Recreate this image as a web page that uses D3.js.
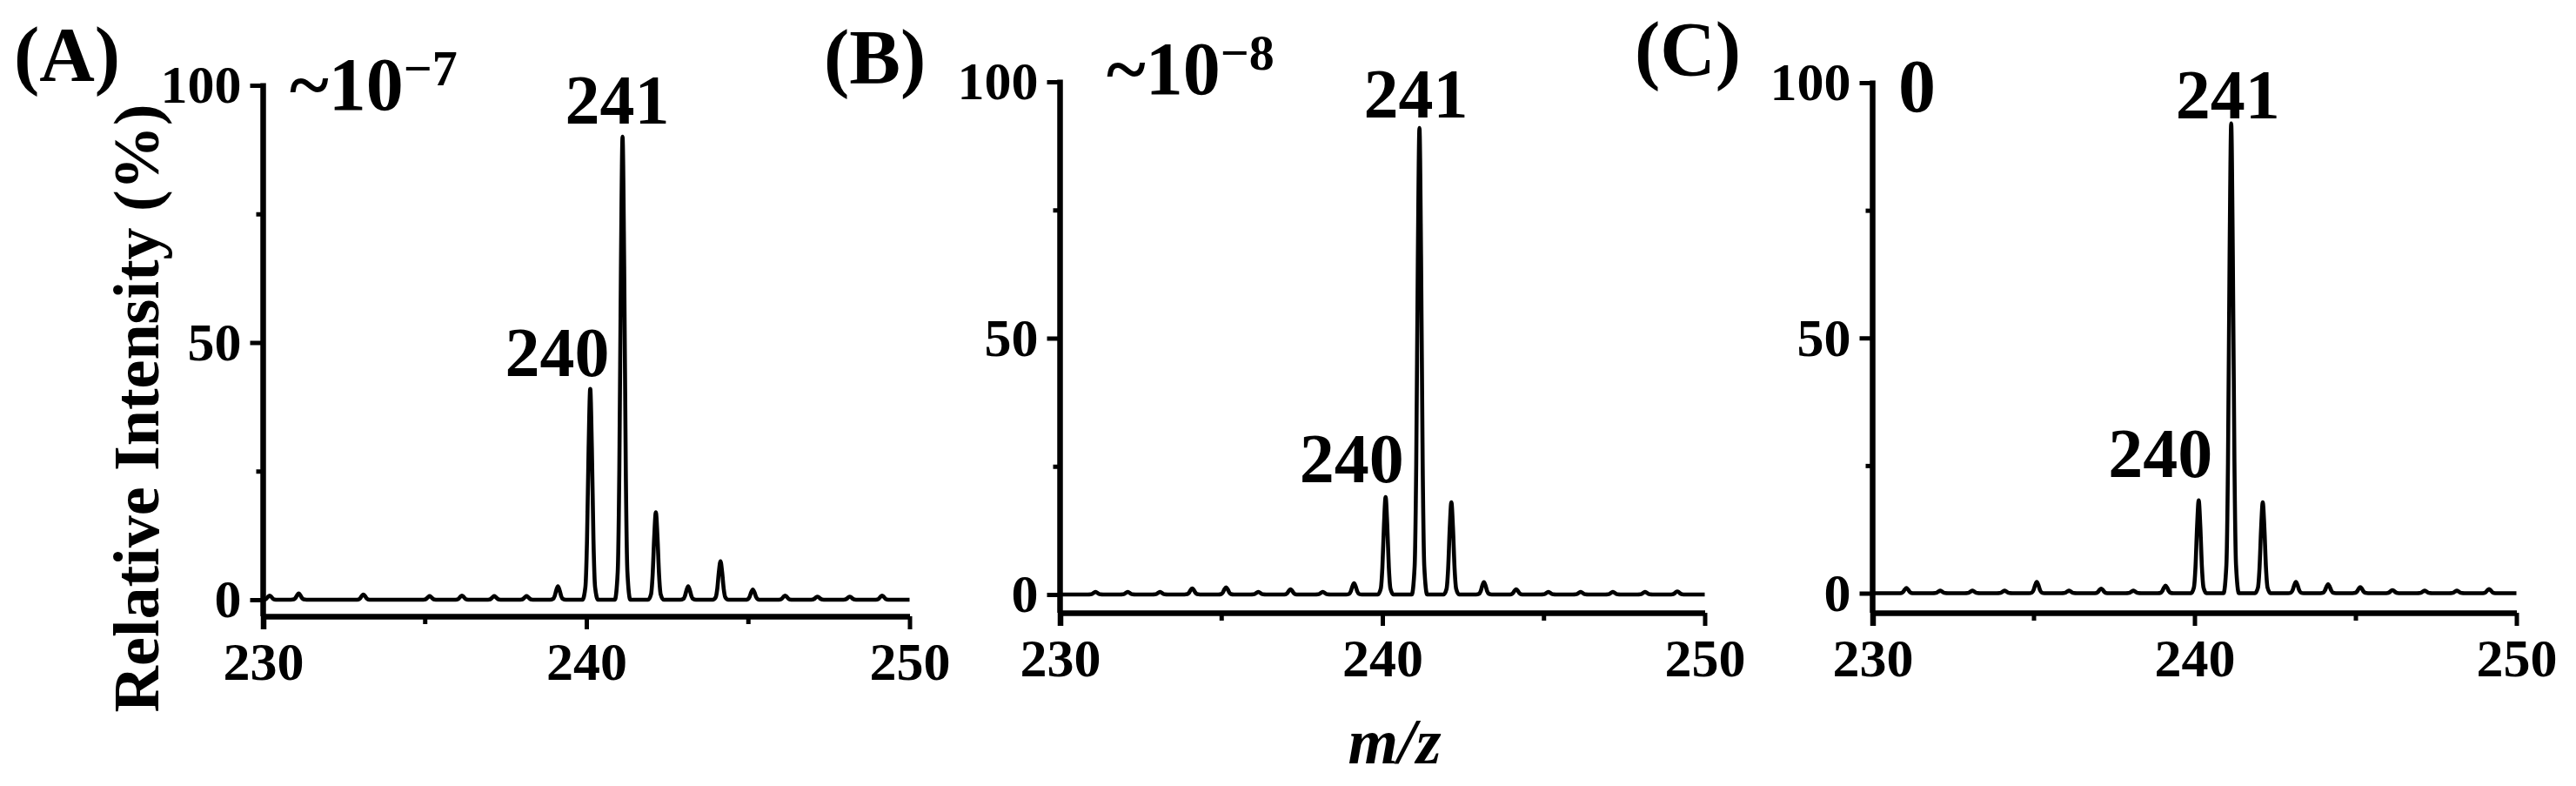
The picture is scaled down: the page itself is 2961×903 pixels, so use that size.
<!DOCTYPE html>
<html>
<head>
<meta charset="utf-8">
<script src="https://cdn.jsdelivr.net/npm/d3@7"></script>
<style>
html, body { margin: 0; padding: 0; background: #fff; }
svg { display: block; }
</style>
</head>
<body>
<script>
// ---------- data ----------
const xTicks = [230, 240, 250];
const xMinorTicks = [235, 245];
const yTicks = [0, 50, 100];
const yMinorTicks = [25, 75];
const panelLabels = ["(A)", "(B)", "(C)"];
const concBase = ["~10", "~10", "0"];
const concExp = ["\u22127", "\u22128", ""];
const peakLabels = ["240", "241"];

// peak centroids (m/z) and relative intensities (%)
const mzA  = [230.2, 231.1, 233.1, 235.15, 236.15, 237.15, 238.15, 239.12, 240.12, 241.12, 242.15, 243.15, 244.15, 245.15, 246.15, 247.15, 248.15, 249.15];
const intA = [0.8,   1.2,   1.0,   0.7,    0.8,    0.7,    0.7,    2.6,    41,     90,     17,     2.6,    7.5,    2.0,    0.8,    0.6,    0.6,    0.8];

const mzB  = [231.1, 232.1, 233.1, 234.1, 235.15, 236.15, 237.15, 238.15, 239.12, 240.1, 241.15, 242.14, 243.15, 244.15, 245.15, 246.15, 247.15, 248.15, 249.15];
const intB = [0.5,   0.5,   0.5,   1.2,   1.4,    0.5,    1.0,    0.5,    2.2,    19,    91,     18,     2.4,    1.0,    0.5,    0.5,    0.5,    0.5,    0.6];

const mzC  = [231.05, 232.1, 233.1, 234.1, 235.1, 236.1, 237.1, 238.1, 239.1, 240.13, 241.14, 242.12, 243.15, 244.15, 245.15, 246.15, 247.15, 248.15, 249.15];
const intC = [1.0,    0.5,   0.5,   0.5,   2.2,   0.5,   0.9,   0.5,   1.5,   18.2,   92,     17.8,   2.2,    1.8,    1.2,    0.6,    0.5,    0.5,    0.8];

const spectra = [[mzA, intA], [mzB, intB], [mzC, intC]];

// ---------- layout / style ----------
const W = 2961, H = 903;
const FONT = "'Liberation Serif','Times New Roman',Times,serif";
const layout = [
  { left: 302.5,  right: 1045.5, y0: 689,   y100: 98, axisY: 708, lab: [16, 92],   conc: [333, 126],  lab240: [-38, 15], lab241: [-6, 15] },
  { left: 1218.5, right: 1959.5, y0: 683,   y100: 94, axisY: 704, lab: [947, 95],  conc: [1272, 108], lab240: [-39, 17], lab241: [-4, 12] },
  { left: 2152.5, right: 2892.5, y0: 681.5, y100: 95, axisY: 704, lab: [1879, 86], conc: [2182, 128], lab240: [-44, 27], lab241: [-4, 6] }
];
// line shape drawn around each centroid: [offset in m/z, fraction of peak height]
const peakShape = [[-0.24, 0], [-0.15, 0.06], [-0.1, 0.28], [-0.05, 0.72], [0, 1], [0.05, 0.72], [0.1, 0.28], [0.15, 0.06], [0.24, 0]];

const svg = d3.select("body").append("svg")
  .attr("width", W).attr("height", H)
  .attr("viewBox", `0 0 ${W} ${H}`);

spectra.forEach(([mz, inten], i) => {
  const L = layout[i];
  const x = d3.scaleLinear().domain([230, 250]).range([L.left, L.right]);
  const y = d3.scaleLinear().domain([0, 100]).range([L.y0, L.y100]);
  const g = svg.append("g");

  // profile trace drawn from the peak list
  const pts = [[230, 0]];
  mz.forEach((m, k) => {
    peakShape.forEach(([dm, f]) => pts.push([m + dm, inten[k] * f]));
  });
  pts.push([250, 0]);
  const prof = pts.filter(p => p[0] >= 230 && p[0] <= 250).sort((a, b) => a[0] - b[0]);
  const line = d3.line().x(d => x(d[0])).y(d => y(d[1])).curve(d3.curveMonotoneX);
  g.append("path").datum(prof)
    .attr("d", line)
    .attr("fill", "none").attr("stroke", "#000")
    .attr("stroke-width", 4.6).attr("stroke-linejoin", "round");

  // y axis
  const yAx = g.append("g").attr("transform", `translate(${L.left},0)`)
    .call(d3.axisLeft(y).tickValues(yTicks).tickSize(15).tickPadding(10).tickSizeOuter(0));
  yAx.select(".domain").remove();
  yAx.append("g").call(d3.axisLeft(y).tickValues(yMinorTicks).tickSize(8).tickFormat(""))
    .select(".domain").remove();
  yAx.selectAll("line").attr("stroke-width", 5);
  yAx.attr("font-family", FONT).attr("font-size", 62).attr("font-weight", "bold");
  yAx.selectAll("text").attr("fill", "#000");

  // y axis spine: from 100 down to the x axis
  g.append("line")
    .attr("x1", x(230)).attr("x2", x(230))
    .attr("y1", y(100) - 2.5).attr("y2", L.axisY)
    .attr("stroke", "#000").attr("stroke-width", 6.5);

  // x axis
  const xAx = g.append("g").attr("transform", `translate(0,${L.axisY})`)
    .call(d3.axisBottom(x).tickValues(xTicks).tickSize(15).tickPadding(14).tickSizeOuter(0));
  xAx.select(".domain").attr("stroke-width", 6.5);
  xAx.append("g").call(d3.axisBottom(x).tickValues(xMinorTicks).tickSize(9).tickFormat(""))
    .select(".domain").remove();
  xAx.selectAll(".tick line").attr("stroke-width", 5);
  xAx.selectAll(".tick").filter(d => d === 230).select("line").attr("stroke-width", 6.5);
  xAx.attr("font-family", FONT).attr("font-size", 62).attr("font-weight", "bold");
  xAx.selectAll("text").attr("fill", "#000");

  // panel label
  g.append("text").attr("x", L.lab[0]).attr("y", L.lab[1])
    .attr("font-family", FONT).attr("font-size", 88).attr("font-weight", "bold")
    .text(panelLabels[i]);

  // concentration annotation
  const c = g.append("text").attr("x", L.conc[0]).attr("y", L.conc[1])
    .attr("font-family", FONT).attr("font-weight", "bold");
  c.append("tspan").attr("font-size", 86).text(concBase[i]);
  if (concExp[i]) c.append("tspan").attr("font-size", 58).attr("dy", -28).text(concExp[i]);

  // peak labels (anchored to the 240 and 241 peaks)
  const k240 = d3.minIndex(mz, m => Math.abs(m - 240));
  const k241 = d3.minIndex(mz, m => Math.abs(m - 241));
  [[k240, L.lab240, peakLabels[0]], [k241, L.lab241, peakLabels[1]]].forEach(([k, off, t]) => {
    g.append("text")
      .attr("x", x(mz[k]) + off[0]).attr("y", y(inten[k]) - off[1])
      .attr("text-anchor", "middle")
      .attr("font-family", FONT).attr("font-size", 80).attr("font-weight", "bold")
      .text(t);
  });
});

// shared axis titles
svg.append("text")
  .attr("transform", "translate(182,469) rotate(-90)")
  .attr("text-anchor", "middle")
  .attr("font-family", FONT).attr("font-size", 74).attr("font-weight", "bold")
  .text("Relative Intensity (%)");

svg.append("text")
  .attr("x", 1603).attr("y", 877)
  .attr("text-anchor", "middle")
  .attr("font-family", FONT).attr("font-size", 74).attr("font-weight", "bold").attr("font-style", "italic")
  .text("m/z");
</script>
</body>
</html>
